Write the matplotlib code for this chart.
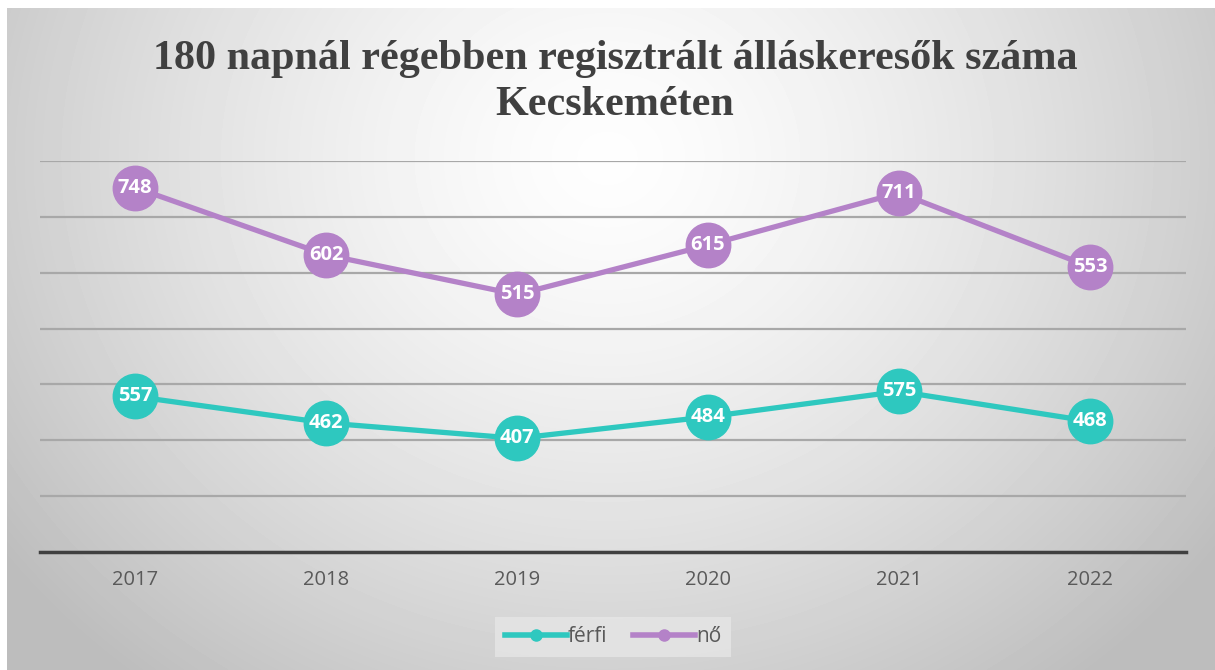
import numpy as np
import matplotlib
matplotlib.use('Agg')
import matplotlib.pyplot as plt

years = ['2017', '2018', '2019', '2020', '2021', '2022']
ferfi = [557, 462, 407, 484, 575, 468]
no = [748, 602, 515, 615, 711, 553]

color_ferfi = "#2ec8bf"
color_no = "#b482c8"
title = "180 napnál régebben regisztrált álláskeresők száma\nKecskeméten"

W, H = 1215, 670
fig = plt.figure(figsize=(W / 100, H / 100), dpi=100)
fig.patch.set_facecolor('white')

# radial grey background, leaves a thin white strip on left/top
bg = fig.add_axes([7 / W, 0, 1 - 7 / W, 1 - 8 / H])
yy, xx = np.mgrid[0:H - 8, 0:W - 7]
r = np.sqrt(((xx - 600) / 720.0) ** 2 + ((yy - 150) / 640.0) ** 2)
shade = np.clip(0.995 - 0.24 * r ** 1.4, 0.74, 1.0)
bg.imshow(shade, cmap='gray', vmin=0, vmax=1, aspect='auto', interpolation='bilinear')
bg.axis('off')

ax = fig.add_axes([39.5 / W, (H - 552) / H, 1146 / W, 391 / H])
ax.patch.set_alpha(0)

x = np.arange(len(years))
stacked = np.array(ferfi) + np.array(no)  # stacked line chart

ax.plot(x, ferfi, color=color_ferfi, linewidth=3.8, marker='o', markersize=32, zorder=4)
ax.plot(x, stacked, color=color_no, linewidth=3.8, marker='o', markersize=32, zorder=4)
for xi, v in zip(x, ferfi):
    ax.text(xi, v, str(v), ha='center', va='center', color='white', fontsize=14.5,
            fontweight='bold', family='Open Sans', zorder=5)
for xi, v, s in zip(x, no, stacked):
    ax.text(xi, s, str(v), ha='center', va='center', color='white', fontsize=14.5,
            fontweight='bold', family='Open Sans', zorder=5)

ax.set_xlim(-0.5, len(years) - 0.5)
ax.set_ylim(0, 1400)
ax.set_yticks(np.arange(0, 1401, 200))
ax.yaxis.grid(True, color='#a8a8a8', linewidth=1.6)
ax.set_axisbelow(True)
ax.tick_params(axis='y', left=False, labelleft=False)
ax.tick_params(axis='x', length=0, pad=13, labelsize=14.5, labelcolor='#595959')
ax.set_xticks(x)
ax.set_xticklabels(years, family='Open Sans')
for s in ['top', 'right', 'left']:
    ax.spines[s].set_visible(False)
ax.spines['bottom'].set_color('#404040')
ax.spines['bottom'].set_linewidth(2.5)

l1, = ax.plot([], [], color=color_ferfi, linewidth=4, marker='o', markersize=8, label='férfi')
l2, = ax.plot([], [], color=color_no, linewidth=4, marker='o', markersize=8, label='nő')
leg = fig.legend(handles=[l1, l2], loc='center', bbox_to_anchor=(613 / W, 1 - 637 / H), ncol=2,
                 frameon=True, fancybox=False, handlelength=3.0, handletextpad=0.05, columnspacing=1.2,
                 borderpad=0.45, prop={'family': 'Open Sans', 'size': 15})
leg.get_frame().set_facecolor('#e6e6e6')
leg.get_frame().set_edgecolor('none')
for t in leg.get_texts():
    t.set_color('#595959')

fig.text(615 / W, 1 - 82 / H, title, ha='center', va='center', fontsize=30.3, fontweight='bold',
         family='Liberation Serif', color='#404040', linespacing=1.3)

fig.savefig('out.png', dpi=100)
